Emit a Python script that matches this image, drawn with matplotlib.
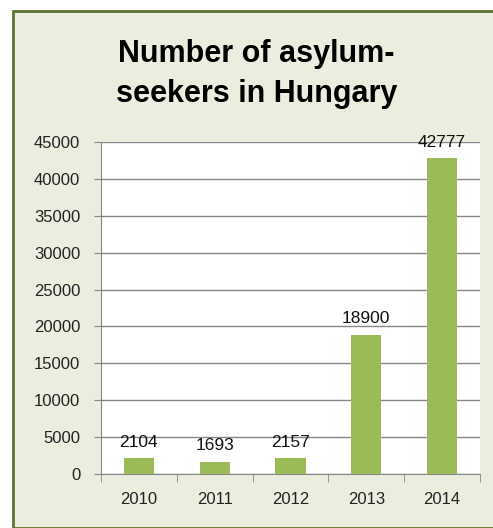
import matplotlib.pyplot as plt
from matplotlib.patches import Rectangle

years = ["2010", "2011", "2012", "2013", "2014"]
seekers = [2104, 1693, 2157, 18900, 42777]
y_ticks = list(range(0, 45001, 5000))

plt.rcParams['font.family'] = ['Liberation Sans', 'DejaVu Sans']

fig = plt.figure(figsize=(4.93, 5.28), dpi=100)
fig.patch.set_facecolor('white')

# greenish panel behind the chart
panel = Rectangle((13 / 493, 0.0), 1.0, 1 - 11 / 528, transform=fig.transFigure,
                  facecolor='#EBEEDF', edgecolor='#5E7530', linewidth=2, zorder=-5)
fig.patches.append(panel)

ax = fig.add_axes([101 / 493, (528 - 474) / 528, (480 - 101) / 493, (474 - 142) / 528])
ax.set_zorder(1)
ax.set_facecolor('white')

x = range(len(years))
bars = ax.bar(x, seekers, width=0.4, color='#9BBB59', zorder=3)

for xi, v in zip(x, seekers):
    ax.annotate(str(v), (xi, v), xytext=(0, 6), textcoords='offset points',
                ha='center', va='bottom', fontsize=12.5, color='#111111',
                annotation_clip=False, zorder=4)

ax.set_xlim(-0.5, len(years) - 0.5)
ax.set_ylim(0, 45000)
ax.set_yticks(y_ticks)
ax.set_yticklabels([str(t) for t in y_ticks], fontsize=12, color='#222222')
ax.set_xticks(list(x))
ax.set_xticklabels(years, fontsize=12, color='#222222')
ax.tick_params(axis='x', length=0, pad=13)
ax.tick_params(axis='y', length=5, color='#868686', pad=10)

# category boundary ticks on the x axis
ax.set_xticks([i - 0.5 for i in range(len(years) + 1)], minor=True)
ax.tick_params(axis='x', which='minor', length=6, color='#868686')

ax.grid(axis='y', color='#868686', linewidth=1, zorder=1)
for s in ['top', 'right']:
    ax.spines[s].set_visible(False)
ax.spines['left'].set_color('#868686')
ax.spines['bottom'].set_color('#868686')

fig.text(0.52, 1 - 74 / 528, "Number of asylum-\nseekers in Hungary", ha='center',
         va='center', fontsize=22, fontweight='bold', linespacing=1.4)

fig.savefig('out.png', dpi=100)
